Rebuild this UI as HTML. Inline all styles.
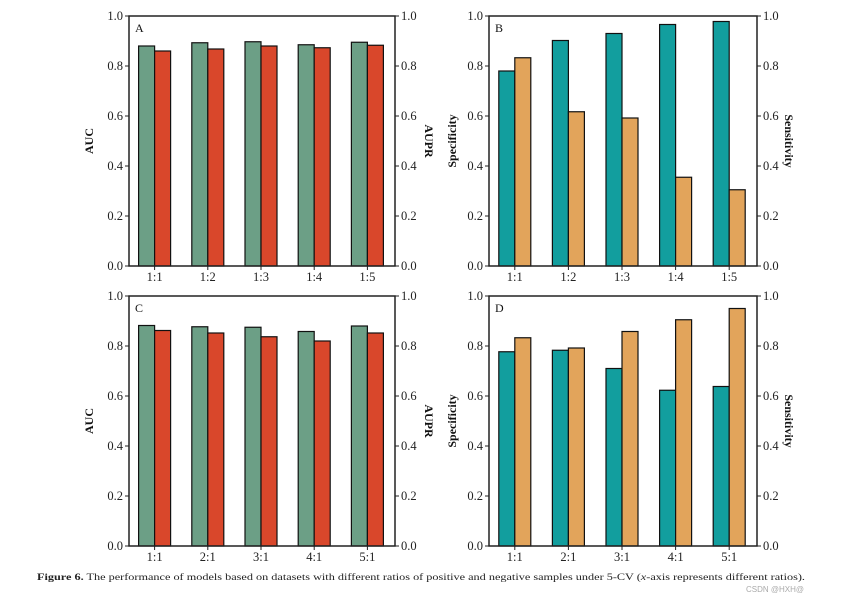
<!DOCTYPE html>
<html><head><meta charset="utf-8"><style>
html,body{margin:0;padding:0;background:#fff;}
svg{display:block;font-family:"Liberation Serif",serif;}
</style></head><body>
<svg id="fig" width="845" height="602" viewBox="0 0 845 602" xmlns="http://www.w3.org/2000/svg">
<text x="37" y="580" font-size="9.5" fill="#222" textLength="768" lengthAdjust="spacingAndGlyphs"><tspan font-weight="bold">Figure 6.</tspan>  The performance of models based on datasets with different ratios of positive and negative samples under 5-CV (<tspan font-style="italic">x</tspan>-axis represents different ratios).</text>
<text x="804" y="592" font-size="8" fill="#aaa" text-anchor="end" font-family="Liberation Sans, sans-serif">CSDN @HXH@</text>
</svg>
<script>
const catsAB = ["1:1","1:2","1:3","1:4","1:5"];
const catsCD = ["1:1","2:1","3:1","4:1","5:1"];
const aucA = [0.880,0.893,0.897,0.885,0.895];
const auprA = [0.860,0.868,0.880,0.873,0.883];
const specB = [0.780,0.902,0.930,0.966,0.978];
const sensB = [0.833,0.617,0.592,0.355,0.305];
const aucC = [0.882,0.877,0.875,0.858,0.880];
const auprC = [0.862,0.852,0.837,0.820,0.852];
const specD = [0.777,0.783,0.710,0.623,0.638];
const sensD = [0.833,0.792,0.858,0.905,0.950];
const yTicks = ["0.0","0.2","0.4","0.6","0.8","1.0"];

const NS="http://www.w3.org/2000/svg";
const svg=document.getElementById('fig');
function mk(tag,attrs,parent){const e=document.createElementNS(NS,tag);for(const k in attrs)e.setAttribute(k,attrs[k]);(parent||svg).appendChild(e);return e;}

function panel(id,L,R,T,B,cats,s1,s2,c1,c2,lab1,lab2,letter,lOff,rOff){
  const g=mk('g',{});
  
  
  const y=v=>B-v*(B-T);
  const bw=(R-L)/cats.length;
  const x=i=>L+bw*(i+0.5)-1;
  const barW=16;
  cats.forEach((c,i)=>{
    const r1=mk('rect',{x:x(i)-barW,y:y(s1[i]),width:barW,height:B-y(s1[i]),fill:c1,stroke:'#111','stroke-width':1.2},g);
    
    
    const r2=mk('rect',{x:x(i),y:y(s2[i]),width:barW,height:B-y(s2[i]),fill:c2,stroke:'#111','stroke-width':1.2},g);
    
    
    mk('line',{x1:x(i),x2:x(i),y1:B,y2:B+4,stroke:'#222','stroke-width':1},g);
    const t=mk('text',{x:x(i),y:B+15,'font-size':12.5,'text-anchor':'middle',fill:'#222'},g);
    t.textContent=c;
    
    
  });
  const ax=mk('path',{d:`M${L},${T}H${R}V${B}H${L}Z`,fill:'none',stroke:'#222','stroke-width':1.5},g);
  
  
  yTicks.forEach(tk=>{
    const yy=y(parseFloat(tk));
    mk('line',{x1:L-4,x2:L,y1:yy,y2:yy,stroke:'#222'},g);
    mk('line',{x1:R,x2:R+4,y1:yy,y2:yy,stroke:'#222'},g);
    const a=mk('text',{x:L-6,y:yy+4,'font-size':12.5,'text-anchor':'end',fill:'#222'},g);a.textContent=tk;
    
    
    const b=mk('text',{x:R+6,y:yy+4,'font-size':12.5,'text-anchor':'start',fill:'#222'},g);b.textContent=tk;
    
    
  });
  const my=(T+B)/2;
  const yl=mk('text',{x:0,y:0,'font-size':12,'font-weight':'bold','text-anchor':'middle',transform:`translate(${L-lOff},${my}) rotate(-90)`,fill:'#111'},g);
  yl.textContent=lab1;
  
  
  const yr=mk('text',{x:0,y:0,'font-size':12,'font-weight':'bold','text-anchor':'middle',transform:`translate(${R+rOff},${my}) rotate(90)`,fill:'#111'},g);
  yr.textContent=lab2;
  
  
  const pl=mk('text',{x:L+6,y:T+16,'font-size':12,fill:'#111'},g);
  pl.textContent=letter;
  
  
}
panel('a',129,395,16,266,catsAB,aucA,auprA,'#6c9f86','#d9472b','AUC','AUPR','A',36,30);
panel('b',489,757,16,266,catsAB,specB,sensB,'#129e9e','#e2a45b','Specificity','Sensitivity','B',33,28);
panel('c',129,395,296,546,catsCD,aucC,auprC,'#6c9f86','#d9472b','AUC','AUPR','C',36,30);
panel('d',489,757,296,546,catsCD,specD,sensD,'#129e9e','#e2a45b','Specificity','Sensitivity','D',33,28);
</script>
</body></html>
